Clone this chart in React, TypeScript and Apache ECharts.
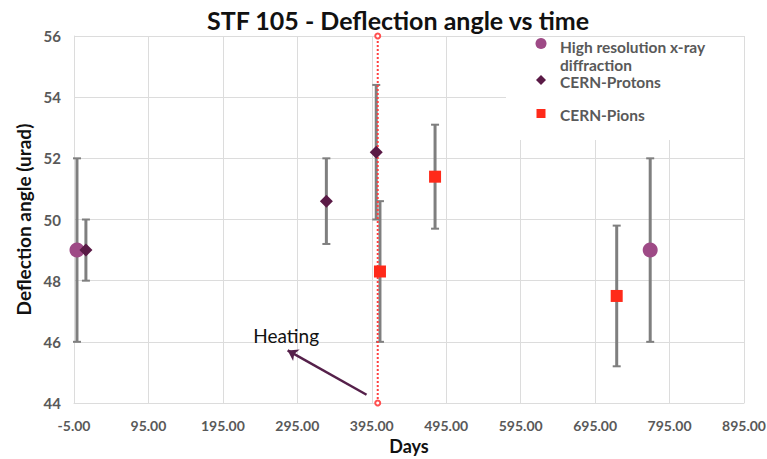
import React, { useEffect, useRef } from "react";
import * as echarts from "echarts";

// Axis is labelled from -5 days in steps of 100
const DAY_START = -5;
const DAY_END = 895;
const DAY_STEP = 100;

const xrayDays = [-1, 769];
const xrayValues = [49, 49];
const xrayErrors = [3, 3];

const protonDays = [11, 334, 401];
const protonValues = [49, 50.6, 52.2];
const protonErrors = [1, 1.4, 2.2];

const pionDays = [406, 480, 724];
const pionValues = [48.3, 51.4, 47.5];
const pionErrors = [2.3, 1.7, 2.3];

const heatingDay = 403;
const heatingArrowFrom = [388, 44.27];
const heatingArrowTo = [282, 45.72];
const heatingLabelAt = [280, 46.22];

const FONT = "Lato, 'Open Sans', sans-serif";
const AXIS_GREY = "#595959";
const GRID_GREY = "#dcdcdc";
const ERR_GREY = "#7f7f7f";

const XRAY_COLOR = "#9e4a86";
const PROTON_COLOR = "#5a1a46";
const PION_COLOR = "#ff2a1a";

// days are shifted so that the first labelled tick (-5) sits on a multiple of the step
const shift = (d: number) => d - DAY_START;

const points = (days: number[], vals: number[]) => days.map((d, i) => [shift(d), vals[i]]);
const errRows = (days: number[], vals: number[], errs: number[]) =>
  days.map((d, i) => [shift(d), vals[i] - errs[i], vals[i] + errs[i]]);

const errorBars = [
  ...errRows(xrayDays, xrayValues, xrayErrors),
  ...errRows(protonDays, protonValues, protonErrors),
  ...errRows(pionDays, pionValues, pionErrors),
];

export default function App() {
  const ref = useRef<HTMLDivElement>(null);

  useEffect(() => {
    if (!ref.current) return;
    const chart = echarts.init(ref.current, null, { renderer: "svg" });

    const legendText = (x: number, y: number, text: string) => ({
      type: "text",
      x,
      y,
      z: 101,
      style: {
        text,
        fill: AXIS_GREY,
        font: `bold 15.5px ${FONT}`,
        verticalAlign: "middle",
        align: "left",
      },
    });

    chart.setOption({
      animation: false,
      backgroundColor: "#fff",
      title: {
        text: "STF 105 - Deflection angle vs time",
        left: 393,
        textAlign: "center",
        top: 2,
        textStyle: { fontFamily: FONT, fontWeight: "bold", fontSize: 25, color: "#111" },
      },
      grid: { left: 74, right: 23, top: 36, bottom: 56, outerBoundsMode: "none" },
      xAxis: {
        type: "value",
        min: 0,
        max: shift(DAY_END),
        interval: DAY_STEP,
        name: "Days",
        nameLocation: "middle",
        nameGap: 33,
        nameTextStyle: { fontFamily: FONT, fontWeight: "bold", fontSize: 18, color: "#111" },
        axisLine: { show: true, lineStyle: { color: GRID_GREY } },
        axisTick: { show: false },
        axisLabel: {
          margin: 15,
          fontFamily: FONT,
          fontWeight: "bold",
          fontSize: 14,
          color: AXIS_GREY,
          formatter: (v: number) => (v + DAY_START).toFixed(2),
        },
        splitLine: { show: true, lineStyle: { color: GRID_GREY, width: 1 } },
      },
      yAxis: {
        type: "value",
        min: 44,
        max: 56,
        interval: 2,
        name: "Deflection angle (urad)",
        nameLocation: "middle",
        nameGap: 30,
        nameTextStyle: { fontFamily: FONT, fontWeight: "bold", fontSize: 19, color: "#111" },
        axisLine: { show: true, lineStyle: { color: GRID_GREY } },
        axisTick: { show: false },
        axisLabel: {
          margin: 13,
          fontFamily: FONT,
          fontWeight: "bold",
          fontSize: 15,
          color: AXIS_GREY,
        },
        splitLine: { show: true, lineStyle: { color: GRID_GREY, width: 1 } },
      },
      series: [
        {
          name: "error",
          type: "custom",
          z: 2,
          silent: true,
          data: errorBars,
          encode: { x: 0, y: [1, 2] },
          renderItem: (params: any, api: any) => {
            const x = api.value(0);
            const lo = api.coord([x, api.value(1)]);
            const hi = api.coord([x, api.value(2)]);
            const cap = 4;
            const style = { stroke: ERR_GREY, lineWidth: 3 };
            const capStyle = { stroke: ERR_GREY, lineWidth: 2 };
            return {
              type: "group",
              children: [
                { type: "line", shape: { x1: lo[0], y1: lo[1], x2: hi[0], y2: hi[1] }, style },
                { type: "line", shape: { x1: lo[0] - cap, y1: lo[1], x2: lo[0] + cap, y2: lo[1] }, style: capStyle },
                { type: "line", shape: { x1: hi[0] - cap, y1: hi[1], x2: hi[0] + cap, y2: hi[1] }, style: capStyle },
              ],
            };
          },
        },
        {
          name: "Heating",
          type: "line",
          z: 3,
          silent: true,
          data: [
            [shift(heatingDay), 44],
            [shift(heatingDay), 56],
          ],
          symbol: "emptyCircle",
          symbolSize: 5,
          itemStyle: { color: "#ff5050", borderWidth: 1 },
          lineStyle: { color: "#ff4040", width: 2, type: [2, 2] },
          markLine: {
            silent: true,
            symbol: ["none", "arrow"],
            symbolSize: 10,
            label: { show: false },
            lineStyle: { color: "#55204a", width: 2.5, type: "solid" },
            data: [
              [
                { coord: [shift(heatingArrowFrom[0]), heatingArrowFrom[1]] },
                { coord: [shift(heatingArrowTo[0]), heatingArrowTo[1]] },
              ],
            ],
          },
          markPoint: {
            silent: true,
            symbol: "rect",
            symbolSize: 0,
            data: [{ coord: [shift(heatingLabelAt[0]), heatingLabelAt[1]] }],
            label: {
              show: true,
              position: "inside",
              formatter: "Heating",
              fontFamily: FONT,
              fontSize: 19,
              color: "#111",
            },
          },
        },
        {
          name: "High resolution x-ray diffraction",
          type: "scatter",
          z: 4,
          symbol: "circle",
          symbolSize: 15,
          itemStyle: { color: XRAY_COLOR, opacity: 1 },
          data: points(xrayDays, xrayValues),
        },
        {
          name: "CERN-Protons",
          type: "scatter",
          z: 4,
          symbol: "diamond",
          symbolSize: 13,
          itemStyle: { color: PROTON_COLOR, opacity: 1 },
          data: points(protonDays, protonValues),
        },
        {
          name: "CERN-Pions",
          type: "scatter",
          z: 4,
          symbol: "rect",
          symbolSize: 12,
          itemStyle: { color: PION_COLOR, opacity: 1 },
          data: points(pionDays, pionValues),
        },
      ],
      graphic: [
        {
          type: "rect",
          z: 100,
          shape: { x: 506, y: 37, width: 238, height: 103 },
          style: { fill: "#fff" },
        },
        { type: "circle", z: 101, shape: { cx: 541, cy: 43.5, r: 5.5 }, style: { fill: XRAY_COLOR } },
        {
          type: "polygon",
          z: 101,
          shape: { points: [[541, 75], [546, 80], [541, 85], [536, 80]] },
          style: { fill: PROTON_COLOR },
        },
        { type: "rect", z: 101, shape: { x: 536.5, y: 109, width: 9, height: 9 }, style: { fill: PION_COLOR } },
        legendText(560, 47, "High resolution x-ray"),
        legendText(560, 64.5, "diffraction"),
        legendText(560, 82, "CERN-Protons"),
        legendText(560, 115, "CERN-Pions"),
      ],
    });

    return () => chart.dispose();
  }, []);

  return <div ref={ref} style={{ width: 767, height: 459, position: "absolute", left: 0, top: 0 }} />;
}
